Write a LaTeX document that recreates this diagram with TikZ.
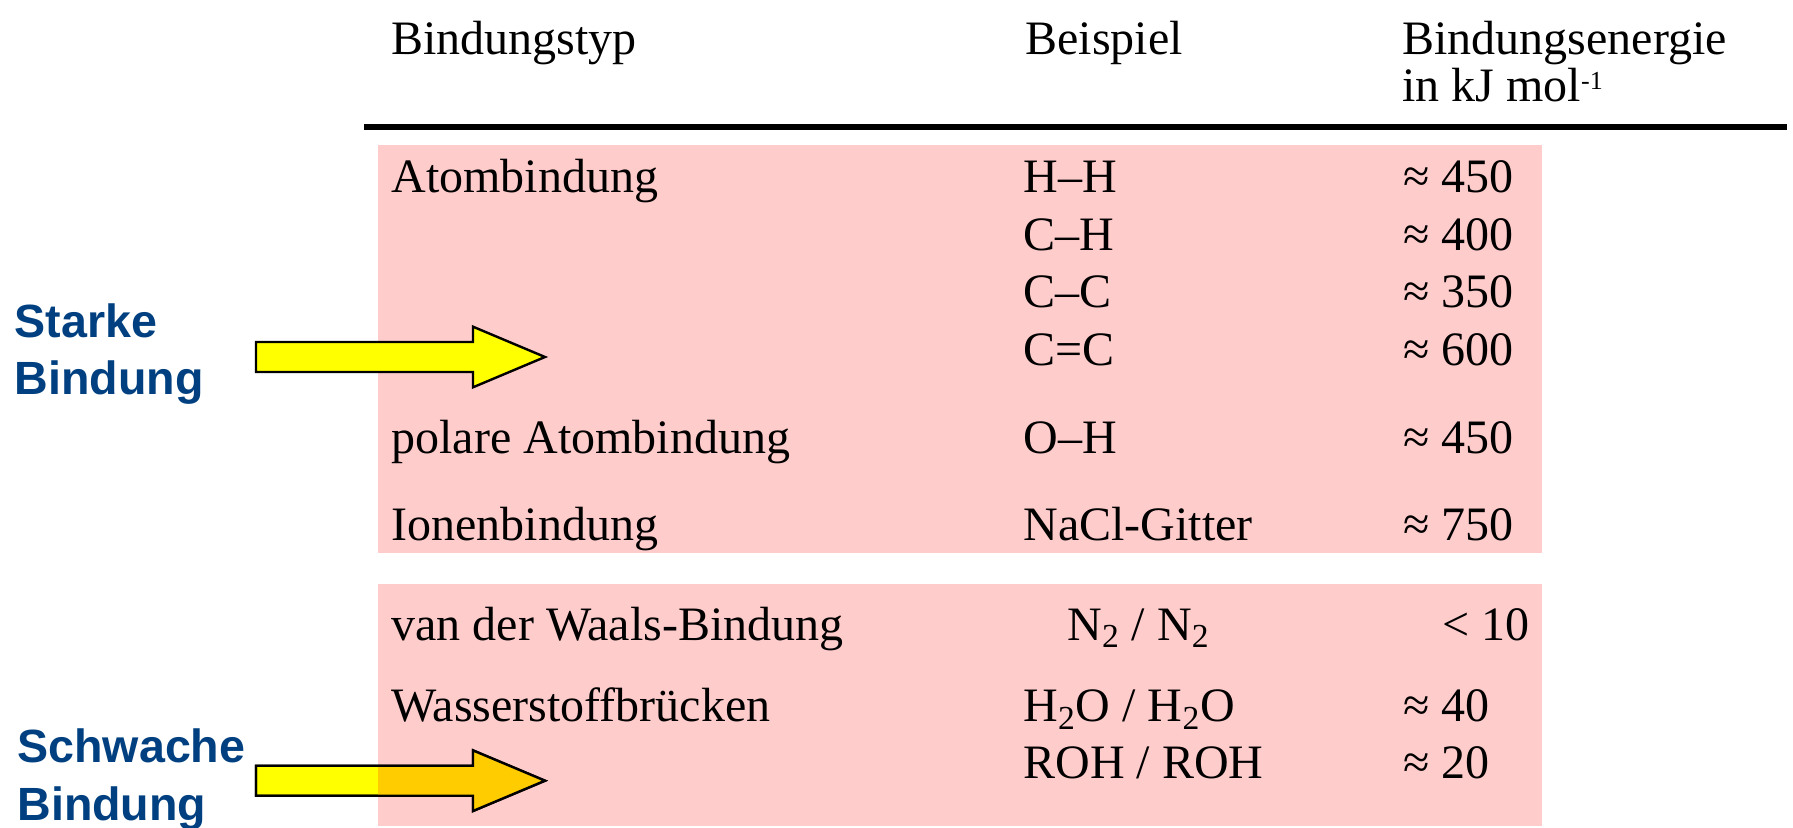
\documentclass[tikz,border=0pt]{standalone}
\usepackage{fontspec}
\setmainfont{Liberation Serif}
\newfontfamily\labelfont{Liberation Sans}
\usetikzlibrary{positioning}
\definecolor{boxpink}{RGB}{255,204,204}
\definecolor{labelblue}{RGB}{0,64,128}
\definecolor{arrowyellow}{RGB}{255,255,0}
\definecolor{arroworange}{RGB}{255,204,0}

\begin{document}
\begin{tikzpicture}[x=0.5pt,y=-0.5pt,
    cell/.style={anchor=base west,inner sep=0pt,font=\fontsize{24}{28}\selectfont},
    cellr/.style={anchor=base east,inner sep=0pt,font=\fontsize{24}{28}\selectfont},
    side/.style={anchor=base west,inner sep=0pt,text=labelblue,font=\labelfont\bfseries\fontsize{23.3}{28}\selectfont},
    bigarrow/.style={fill=arrowyellow,draw=black,line width=1.2pt,line join=miter}]
    \useasboundingbox (0,0) rectangle (1793,828);

    % Head of the table
    \node[cell] (hType) at (391,54.5) {Bindungstyp};
    \node[cell] (hEx) at (1025,54.5) {Beispiel};
    \node[cell] (hEn) at (1402,54.5) {Bindungsenergie};
    \node[cell] (hUnit) at (1402,102) {in kJ mol\raisebox{0.55ex}{\fontsize{13}{13}\selectfont -1}};
    \draw[line width=3pt] (364,127) -- (1787,127);

    % Pink blocks
    \fill[boxpink] (378,145) rectangle (1542,553);
    \fill[boxpink] (378,584) rectangle (1542,826);

    % Strong bonds
    \node[cell] (tAtom) at (391,193) {Atombindung};
    \node[cell] (eHH) at (1023,193) {H–H};
    \node[cell] (vHH) at (1403,193) {≈ 450};
    \node[cell] (eCH) at (1023,251) {C–H};
    \node[cell] (vCH) at (1403,251) {≈ 400};
    \node[cell] (eCC) at (1023,308) {C–C};
    \node[cell] (vCC) at (1403,308) {≈ 350};
    \node[cell] (eCdC) at (1023,366) {C=C};
    \node[cell] (vCdC) at (1403,366) {≈ 600};
    \node[cell] (tPolar) at (391,453) {polare Atombindung};
    \node[cell] (eOH) at (1023,453) {O–H};
    \node[cell] (vOH) at (1403,453) {≈ 450};
    \node[cell] (tIon) at (391,540) {Ionenbindung};
    \node[cell] (eNaCl) at (1023,540) {NaCl-Gitter};
    \node[cell] (vNaCl) at (1403,540) {≈ 750};

    % Weak bonds
    \node[cell] (tVdW) at (391,640) {van der Waals-Bindung};
    \node[cell] (eNN) at (1067,640) {N\textsubscript{2} / N\textsubscript{2}};
    \node[cellr] (vNN) at (1530,640) {< 10};
    \node[cell] (tHbr) at (391,721.7) {Wasserstoffbrücken};
    \node[cell] (eHOH) at (1023,721.7) {H\textsubscript{2}O / H\textsubscript{2}O};
    \node[cell] (vHOH) at (1403,721.7) {≈ 40};
    \node[cell] (eROH) at (1023,778) {ROH / ROH};
    \node[cell] (vROH) at (1403,778) {≈ 20};

    % Side labels
    \node[side] (lStrong1) at (14.5,337.7) {Starke};
    \node[side] (lStrong2) at (14.5,394.4) {Bindung};
    \node[side] (lWeak1) at (17,762.7) {Schwache};
    \node[side] (lWeak2) at (17,820.7) {Bindung};

    % Block arrows
    \filldraw[bigarrow] (256,342) -- (473,342) -- (473,326.7) -- (545,357) -- (473,387.3) -- (473,372) -- (256,372) -- cycle;
    \filldraw[bigarrow] (256,765.7) -- (473,765.7) -- (473,750.4) -- (545,780.7) -- (473,811) -- (473,795.7) -- (256,795.7) -- cycle;
    \begin{scope}
        \clip (378,584) rectangle (1542,826);
        \fill[arroworange] (256,765.7) -- (473,765.7) -- (473,750.4) -- (545,780.7) -- (473,811) -- (473,795.7) -- (256,795.7) -- cycle;
    \end{scope}
    \draw[bigarrow,fill=none] (256,765.7) -- (473,765.7) -- (473,750.4) -- (545,780.7) -- (473,811) -- (473,795.7) -- (256,795.7) -- cycle;
\end{tikzpicture}
\end{document}
